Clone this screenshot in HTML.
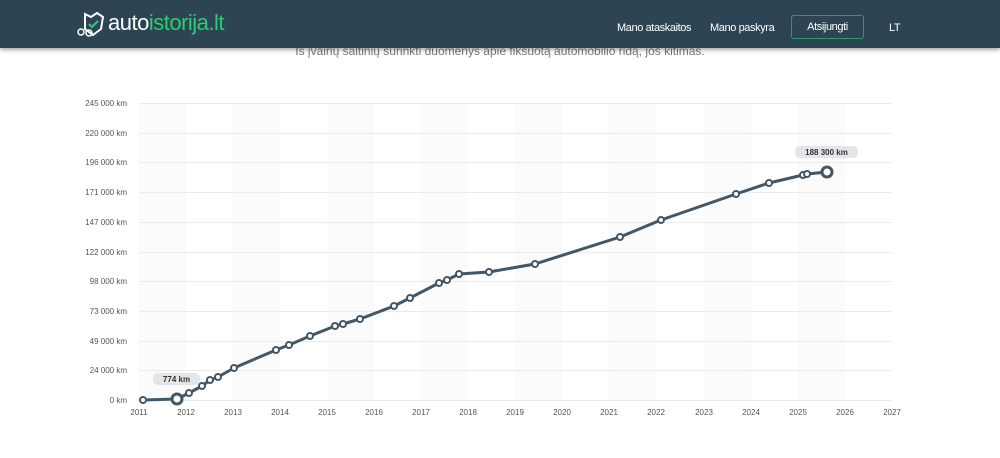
<!DOCTYPE html>
<html><head><meta charset="utf-8"><style>
body{margin:0;width:1000px;height:458px;background:#fff;overflow:hidden;font-family:"Liberation Sans",sans-serif;position:relative}
.nav{position:absolute;left:0;top:0;width:1000px;height:48px;background:#2d4454;box-shadow:0 2px 4px rgba(0,0,0,.35);z-index:2}
.logo{position:absolute;left:108px;top:10px;font-size:22px;color:#fff;letter-spacing:-0.5px}
.logo span{color:#2ecc71}
.nl{position:absolute;top:22px;font-size:11px;color:#fff;letter-spacing:-0.4px}
.btn{position:absolute;left:791px;top:15px;width:71px;height:22px;border:1px solid #2a9d6e;border-radius:3px;color:#fff;font-size:11px;text-align:center;line-height:22px;letter-spacing:-0.4px}
.sub{position:absolute;top:44px;left:0;width:1000px;text-align:center;color:#777;font-size:12px}
</style></head><body>
<div class="nav">
<svg style="position:absolute;left:77px;top:11px" width="30" height="26" viewBox="0 0 30 26"><path d="M8 3 L14 6 L20 2 L26 6 L24 18 L16 24 L8 18 Z" fill="none" stroke="#fff" stroke-width="2"/><path d="M12 13 L15 16 L21 10" fill="none" stroke="#2ecc71" stroke-width="2"/><circle cx="4" cy="21" r="3" fill="none" stroke="#fff" stroke-width="1.5"/><circle cx="12" cy="22" r="3" fill="none" stroke="#fff" stroke-width="1.5"/></svg>
<div class="logo">auto<span>istorija.lt</span></div>
<div class="nl" style="left:617px">Mano ataskaitos</div>
<div class="nl" style="left:710px">Mano paskyra</div>
<div class="btn">Atsijungti</div>
<div class="nl" style="left:889px">LT</div>
</div>
<div class="sub">Iš įvairių šaltinių surinkti duomenys apie fiksuotą automobilio ridą, jos kitimas.</div>
<svg style="position:absolute;left:0;top:0" width="1000" height="458" font-family="Liberation Sans, sans-serif">
<g fill="#fbfbfb">
<rect x="139" y="103" width="47" height="297"/><rect x="233" y="103" width="47" height="297"/><rect x="327" y="103" width="47" height="297"/><rect x="421" y="103" width="47" height="297"/><rect x="515" y="103" width="47" height="297"/><rect x="609" y="103" width="47" height="297"/><rect x="704" y="103" width="47" height="297"/><rect x="798" y="103" width="47" height="297"/>
</g>
<g stroke="#ebebeb" stroke-width="1">
<line x1="139" x2="892" y1="103.5" y2="103.5"/><line x1="139" x2="892" y1="133.5" y2="133.5"/><line x1="139" x2="892" y1="162.5" y2="162.5"/><line x1="139" x2="892" y1="192.5" y2="192.5"/><line x1="139" x2="892" y1="222.5" y2="222.5"/><line x1="139" x2="892" y1="252.5" y2="252.5"/><line x1="139" x2="892" y1="281.5" y2="281.5"/><line x1="139" x2="892" y1="311.5" y2="311.5"/><line x1="139" x2="892" y1="341.5" y2="341.5"/><line x1="139" x2="892" y1="370.5" y2="370.5"/><line x1="139" x2="892" y1="400.5" y2="400.5"/>
</g>
<g font-size="8" fill="#555" text-anchor="end">
<text x="127" y="106">245 000 km</text><text x="127" y="136">220 000 km</text><text x="127" y="165">196 000 km</text><text x="127" y="195">171 000 km</text><text x="127" y="225">147 000 km</text><text x="127" y="255">122 000 km</text><text x="127" y="284">98 000 km</text><text x="127" y="314">73 000 km</text><text x="127" y="344">49 000 km</text><text x="127" y="373">24 000 km</text><text x="127" y="403">0 km</text>
</g>
<g font-size="8" fill="#555" text-anchor="middle">
<text x="139" y="415">2011</text><text x="186" y="415">2012</text><text x="233" y="415">2013</text><text x="280" y="415">2014</text><text x="327" y="415">2015</text><text x="374" y="415">2016</text><text x="421" y="415">2017</text><text x="468" y="415">2018</text><text x="515" y="415">2019</text><text x="562" y="415">2020</text><text x="609" y="415">2021</text><text x="656" y="415">2022</text><text x="704" y="415">2023</text><text x="751" y="415">2024</text><text x="798" y="415">2025</text><text x="845" y="415">2026</text><text x="892" y="415">2027</text>
</g>
<polyline fill="none" stroke="#435766" stroke-width="3" stroke-linejoin="round" points="143,400 177,399 189,393 202,386 210,380 218,377 234,368 276,350 289,345 310,336 335,326 343,324 360,319 394,306 410,298 439,283 447,280 459,274 489,272 535,264 620,237 661,220 736,194 769,183 803,175 807,174 827,172"/>
<g fill="#fff" stroke="#435766" stroke-width="2">
<circle cx="143" cy="400" r="3"/><circle cx="189" cy="393" r="3"/><circle cx="202" cy="386" r="3"/><circle cx="210" cy="380" r="3"/><circle cx="218" cy="377" r="3"/><circle cx="234" cy="368" r="3"/><circle cx="276" cy="350" r="3"/><circle cx="289" cy="345" r="3"/><circle cx="310" cy="336" r="3"/><circle cx="335" cy="326" r="3"/><circle cx="343" cy="324" r="3"/><circle cx="360" cy="319" r="3"/><circle cx="394" cy="306" r="3"/><circle cx="410" cy="298" r="3"/><circle cx="439" cy="283" r="3"/><circle cx="447" cy="280" r="3"/><circle cx="459" cy="274" r="3"/><circle cx="489" cy="272" r="3"/><circle cx="535" cy="264" r="3"/><circle cx="620" cy="237" r="3"/><circle cx="661" cy="220" r="3"/><circle cx="736" cy="194" r="3"/><circle cx="769" cy="183" r="3"/><circle cx="803" cy="175" r="3"/><circle cx="807" cy="174" r="3"/>
<circle cx="177" cy="399" r="5" stroke-width="3"/><circle cx="827" cy="172" r="5" stroke-width="3"/>
</g>
<rect x="153" y="373" width="47" height="12" rx="5" fill="#e3e5e8"/><text x="176.5" y="382" font-size="8" font-weight="bold" fill="#333" text-anchor="middle">774 km</text>
<rect x="795" y="146" width="63" height="12" rx="5" fill="#e3e5e8"/><text x="826.5" y="155" font-size="8" font-weight="bold" fill="#333" text-anchor="middle">188 300 km</text>
</svg>
</body></html>
